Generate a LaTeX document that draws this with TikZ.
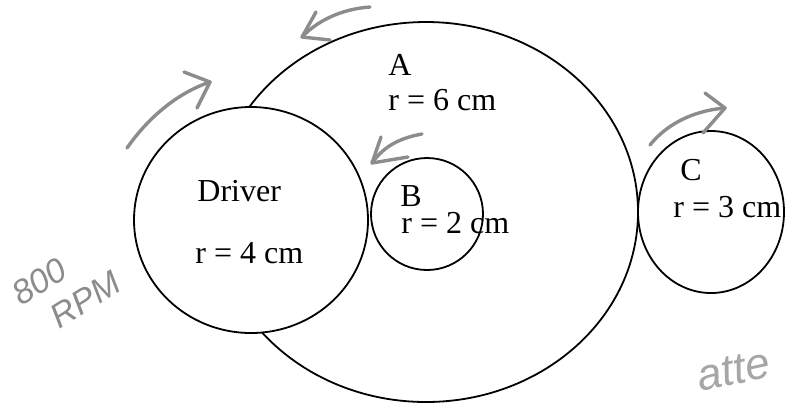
\documentclass[tikz,border=0pt]{standalone}
\usepackage{fontspec}
\setmainfont{Liberation Serif}
\newfontfamily\handfont{Liberation Sans}
\begin{document}
\begin{tikzpicture}[x=0.5pt,y=-0.5pt,
  wheel/.style={draw=black,line width=0.9pt},
  lbl/.style={anchor=base west,inner sep=0pt,font=\fontsize{16}{18}\selectfont},
  pen/.style={draw=black!45,line width=1.7pt,line cap=round,line join=round},
  hand/.style={text=black!45,inner sep=0pt,font=\handfont\itshape\fontsize{17}{19}\selectfont}]
\useasboundingbox[fill=white] (0,0) rectangle (786,404);
% gears
\draw[wheel] (426,212) ellipse [x radius=212,y radius=190];
\draw[wheel,fill=white] (251,220) ellipse [x radius=117,y radius=113];
\node (A) [lbl] at (388,75) {A};
\node (rA) [lbl] at (388,110) {r = 6 cm};
\node (D) [lbl] at (197,201) {Driver};
\node (rD) [lbl] at (195,263) {r = 4 cm};
\node (B) [lbl] at (400,206) {B};
\node (rB) [lbl] at (401,233) {r = 2 cm};
\node (C) [lbl] at (680,180) {C};
\node (rC) [lbl] at (673,217) {r = 3 cm};
\draw[wheel] (427,214) circle [radius=56];
\draw[wheel] (711,212) ellipse [x radius=73,y radius=81];
% handwritten arrows
\coordinate (t1) at (302,37);
\draw[pen] (370,7) .. controls (340,9) and (316,22) .. (t1);
\draw[pen] (316,12) -- (t1) -- (330,40);
\coordinate (t2) at (210,82);
\draw[pen] (127,148) .. controls (150,115) and (180,92) .. (t2);
\draw[pen] (184,72) -- (t2) -- (197,108);
\coordinate (t3) at (372,163);
\draw[pen] (422,134) .. controls (400,138) and (384,146) .. (t3);
\draw[pen] (381,137) -- (t3) -- (408,157);
\coordinate (t4) at (725,108);
\draw[pen] (650,145) .. controls (670,120) and (700,110) .. (t4);
\draw[pen] (705,93) -- (t4) -- (703,133);
% handwritten notes
\node (rpm) [hand,align=left,rotate=32,font=\handfont\itshape\fontsize{17}{20}\selectfont] at (66,288) {800\\\hspace*{0.6em}RPM};
\node (note) [hand,anchor=base west,rotate=12,font=\handfont\itshape\fontsize{22}{24}\selectfont,text=black!35] at (700,392) {atte};
\end{tikzpicture}
\end{document}
